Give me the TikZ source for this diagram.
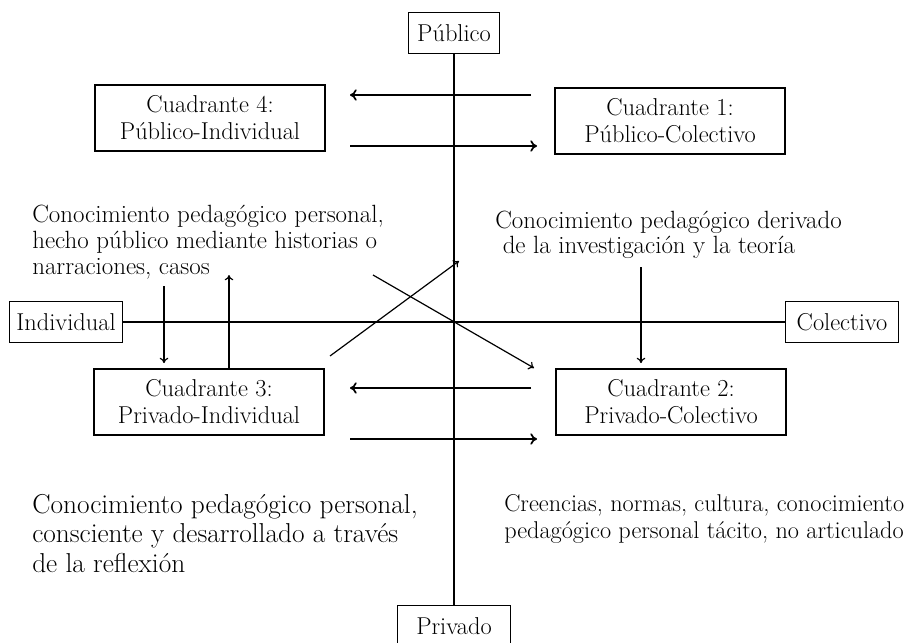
\documentclass[tikz,border=0pt]{standalone}
\usepackage{tikz}
\usetikzlibrary{
    calc,
    arrows,
    arrows.meta
}
\tikzset{
    quad/.style={draw, line width=1.4pt, align=center, minimum width=172pt, minimum height=49pt, font=\fontsize{18.3}{20.3}\selectfont},
    axisbox/.style={draw, line width=0.8pt, minimum height=31pt, inner xsep=5pt, font=\fontsize{18.3}{20.3}\selectfont},
    note/.style={align=left, inner sep=0pt, anchor=north west},
    flow/.style={-{To[length=5pt,width=8.5pt]}, line width=1.3pt},
    link/.style={-{To[length=4pt,width=6.5pt]}, line width=0.9pt}
}

\begin{document}
\begin{tikzpicture}[x=0.75pt, y=-0.75pt]
        \useasboundingbox (0,0) rectangle (920,642);

        % ejes
        \draw (454,33) node[axisbox, minimum width=68pt](pub){Público};
        \draw (454,626) node[axisbox, minimum width=85pt](priv){Privado};
        \draw (66,322) node[axisbox, minimum width=85pt](ind){Individual};
        \draw (842,322) node[axisbox, minimum width=85pt](col){Colectivo};
        \draw[line width=1.2pt] (pub) -- (priv);
        \draw[line width=1pt] (ind) -- (col);

        % cuadrantes
        \draw (210,118) node[quad](q4){Cuadrante 4:\\Público-Individual};
        \draw (670,121) node[quad](q1){Cuadrante 1:\\Público-Colectivo};
        \draw (209,402) node[quad](q3){Cuadrante 3:\\Privado-Individual};
        \draw (671,402) node[quad](q2){Cuadrante 2:\\Privado-Colectivo};

        \coordinate (ta) at (531,95);  \coordinate (tb) at (350,95);
        \coordinate (tc) at (350,146); \coordinate (td) at (537,146);
        \draw[flow] (ta) -- (tb);
        \draw[flow] (tc) -- (td);

        \coordinate (ba) at (531,388); \coordinate (bb) at (350,388);
        \coordinate (bc) at (350,439); \coordinate (bd) at (537,439);
        \draw[flow] (ba) -- (bb);
        \draw[flow] (bc) -- (bd);

        % textos
        \draw (32,204.5) node[note, font=\fontsize{18.7}{19.5}\selectfont](narr){Conocimiento pedagógico personal,\\hecho público mediante historias o\\narraciones, casos};
        \draw (495,210.5) node[note, font=\fontsize{18.7}{19}\selectfont](inv){Conocimiento pedagógico derivado\\\hspace*{0.3em}de la investigación y la teoría};
        \draw (32,494) node[note, font=\fontsize{20.5}{22}\selectfont](refl){Conocimiento pedagógico personal,\\consciente y desarrollado a través\\de la reflexión};
        \draw (504,494) node[note, font=\fontsize{18.2}{20.3}\selectfont](tac){Creencias, normas, cultura, conocimiento\\pedagógico personal tácito, no articulado};

        \coordinate (na) at (164,286);
        \coordinate (nb) at (229,275);
        \coordinate (da) at (330,356); \coordinate (db) at (459,261);
        \coordinate (dc) at (373,275); \coordinate (dd) at (534,368);
        \coordinate (ia) at (641,267);
        \draw[link, shorten >=4pt] (na) -- (na |- q3.north);
        \draw[link] (q3.north -| nb) -- (nb);
        \draw[link] (da) -- (db);
        \draw[link] (dc) -- (dd);
        \draw[link, shorten >=4pt] (ia) -- (ia |- q2.north);
    \end{tikzpicture}
\end{document}
